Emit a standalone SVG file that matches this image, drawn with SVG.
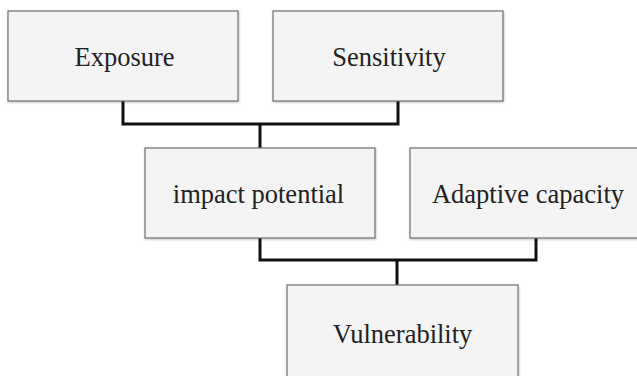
<svg xmlns="http://www.w3.org/2000/svg" width="637" height="376" viewBox="0 0 637 376">
<style>
.box{fill:#f4f4f4;stroke:#6e6e6e;stroke-width:1.2}
.lbl{font-family:"Liberation Serif","DejaVu Serif",serif;font-size:26.5px;fill:#222;text-anchor:middle}
.con{fill:none;stroke:#111;stroke-width:3;stroke-linejoin:miter}
</style>
<defs>
<filter id="sh" x="-5%" y="-5%" width="110%" height="115%"><feDropShadow dx="0.5" dy="1" stdDeviation="0.8" flood-color="#000" flood-opacity="0.25"/></filter>
</defs>
<rect width="637" height="376" fill="#fff"/>
<g id="connectors">
<polyline class="con" points="123,101 123,124 398,124 398,101"/>
<line class="con" x1="260" y1="124" x2="260" y2="148"/>
<polyline class="con" points="260,238 260,260 536,260 536,238"/>
<line class="con" x1="397" y1="260" x2="397" y2="285"/>
</g>
<g id="exposure"><rect class="box" filter="url(#sh)" x="8" y="11" width="230" height="90"/><text class="lbl" x="124.5" y="66">Exposure</text></g>
<g id="sensitivity"><rect class="box" filter="url(#sh)" x="273" y="11" width="230" height="90"/><text class="lbl" x="389" y="66">Sensitivity</text></g>
<g id="impact"><rect class="box" filter="url(#sh)" x="145" y="148" width="230" height="90"/><text class="lbl" x="258.5" y="202.5">impact potential</text></g>
<g id="adaptive"><rect class="box" filter="url(#sh)" x="410" y="148" width="235" height="90"/><text class="lbl" x="528" y="202.5">Adaptive capacity</text></g>
<g id="vulnerability"><rect class="box" filter="url(#sh)" x="287" y="285" width="231" height="95"/><text class="lbl" x="402.5" y="342.5">Vulnerability</text></g>
</svg>
